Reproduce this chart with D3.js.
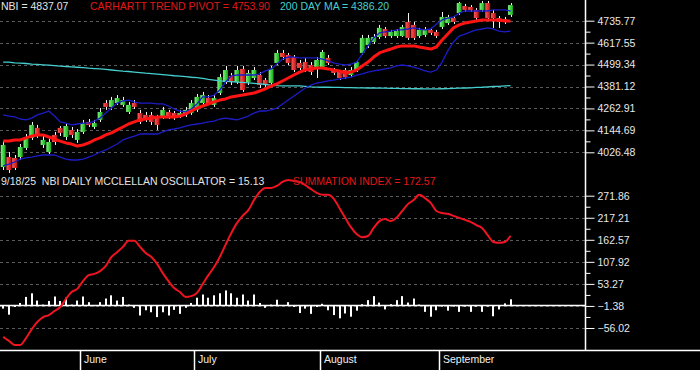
<!DOCTYPE html>
<html>
<head>
<meta charset="utf-8" />
<script src="https://d3js.org/d3.v7.min.js"></script>
<title>NBI McClellan</title>
<style>
  body { margin: 0; background: #000; }
  svg { display: block; font-family: "Liberation Sans", Arial, sans-serif; }
</style>
</head>
<body>
<svg id="chart" width="700" height="370"></svg>
<script>
// trading days shown on the chart
var dates = [
  "2025-05-12","2025-05-13","2025-05-14","2025-05-15","2025-05-16","2025-05-19","2025-05-20","2025-05-21","2025-05-22","2025-05-23",
  "2025-05-27","2025-05-28","2025-05-29","2025-05-30",
  "2025-06-02","2025-06-03","2025-06-04","2025-06-05","2025-06-06","2025-06-09","2025-06-10","2025-06-11","2025-06-12","2025-06-13",
  "2025-06-16","2025-06-17","2025-06-18","2025-06-20","2025-06-23","2025-06-24","2025-06-25","2025-06-26","2025-06-27","2025-06-30",
  "2025-07-01","2025-07-02","2025-07-03","2025-07-07","2025-07-08","2025-07-09","2025-07-10","2025-07-11","2025-07-14","2025-07-15",
  "2025-07-16","2025-07-17","2025-07-18","2025-07-21","2025-07-22","2025-07-23","2025-07-24","2025-07-25","2025-07-28","2025-07-29",
  "2025-07-30","2025-07-31",
  "2025-08-01","2025-08-04","2025-08-05","2025-08-06","2025-08-07","2025-08-08","2025-08-11","2025-08-12","2025-08-13","2025-08-14",
  "2025-08-15","2025-08-18","2025-08-19","2025-08-20","2025-08-21","2025-08-22","2025-08-25","2025-08-26","2025-08-27","2025-08-28",
  "2025-08-29",
  "2025-09-02","2025-09-03","2025-09-04","2025-09-05","2025-09-08","2025-09-09","2025-09-10","2025-09-11","2025-09-12","2025-09-15",
  "2025-09-16","2025-09-17","2025-09-18"
];
var monthLabels = ["June", "July", "August", "September"];

// NBI daily candles
var open = [3947,4001,3996,4001,4050,4104,4158,4066,4028,4120, 4158,4109,4147,4093,4136,4190,4163,4201,4292,4271,
  4292,4282,4244,4292,4238,4228,4228,4211,4217,4244, 4238,4222,4228,4238,4255,4292,4319,4282,4346,4405,
  4438,4405,4476,4405,4427,4443,4416,4400,4508,4562, 4551,4540,4508,4513,4497,4481,4486,4535,4470,4459,
  4470,4443,4470,4562,4605,4621,4648,4691,4653,4653, 4653,4729,4713,4653,4659,4686,4675,4702,4723,4750,
  4777,4815,4810,4794,4794,4831,4777,4750,4745,4767];
var high = [4087,4028,4012,4071,4125,4190,4174,4114,4098,4136, 4168,4184,4163,4152,4201,4206,4201,4265,4308,4325,
  4335,4325,4298,4308,4255,4244,4244,4228,4271,4255, 4249,4255,4271,4308,4341,4352,4335,4341,4449,4492,
  4454,4492,4492,4470,4486,4459,4427,4492,4578,4578, 4562,4551,4524,4535,4513,4540,4578,4551,4481,4470,
  4481,4486,4524,4659,4659,4664,4713,4702,4686,4691, 4713,4777,4729,4697,4702,4697,4686,4783,4767,4761,
  4837,4826,4820,4804,4842,4842,4794,4761,4756,4831];
var low = [3931,3915,3931,3985,4039,4093,4104,4050,4017,4066, 4114,4093,4104,4077,4125,4163,4152,4190,4255,4255,
  4282,4271,4233,4260,4179,4190,4174,4147,4206,4206, 4201,4211,4217,4228,4244,4282,4282,4271,4335,4395,
  4389,4395,4352,4389,4416,4373,4379,4389,4497,4524, 4497,4459,4470,4459,4443,4427,4476,4497,4443,4416,
  4422,4432,4459,4551,4589,4610,4637,4643,4643,4643, 4648,4632,4632,4643,4648,4659,4643,4691,4713,4718,
  4767,4783,4783,4740,4783,4740,4697,4697,4718,4756];
var close = [4066,3931,3942,4055,4104,4174,4120,4093,4082,4082, 4131,4168,4120,4136,4184,4174,4184,4244,4271,4308,
  4319,4308,4282,4271,4190,4201,4190,4174,4255,4217, 4211,4238,4255,4292,4325,4335,4292,4319,4432,4470,
  4405,4470,4362,4454,4470,4389,4389,4476,4562,4540, 4508,4470,4481,4470,4459,4524,4567,4508,4454,4427,
  4432,4470,4513,4643,4643,4648,4697,4653,4675,4680, 4702,4643,4643,4686,4691,4670,4653,4756,4756,4729,
  4831,4794,4794,4750,4831,4750,4750,4729,4729,4820];

// overlays
var pivot = [4087,4087,4093,4093,4104,4114,4120,4120,4109,4098, 4087,4077,4071,4060,4066,4077,4093,4104,4120,4131,
  4147,4163,4179,4190,4201,4206,4211,4217,4217,4217, 4217,4222,4233,4249,4265,4276,4287,4298,4308,4314,
  4325,4330,4335,4341,4346,4357,4368,4384,4395,4411, 4427,4443,4459,4470,4476,4481,4481,4476,4470,4465,
  4454,4459,4470,4492,4513,4540,4562,4573,4583,4594, 4600,4600,4600,4594,4589,4583,4594,4632,4664,4697,
  4713,4723,4729,4734,4740,4740,4740,4740,4734,4734];
var upperBand = [4228,4222,4217,4206,4201,4211,4228,4238,4249,4222, 4190,4184,4174,4179,4184,4184,4195,4211,4238,4265,
  4292,4303,4308,4298,4292,4292,4292,4287,4287,4276, 4260,4249,4244,4260,4287,4325,4325,4335,4362,4405,
  4438,4443,4443,4443,4443,4449,4465,4476,4502,4529, 4540,4540,4535,4535,4535,4535,4529,4519,4508,4502,
  4497,4502,4513,4556,4600,4643,4670,4675,4680,4686, 4686,4691,4697,4691,4686,4691,4718,4740,4750,4756,
  4777,4788,4788,4788,4788,4788,4794,4794,4794,4788];
var lowerBand = [3953,3963,3974,3990,3996,4001,4007,4012,4012,4012, 4001,3990,3985,3985,3990,4001,4012,4028,4039,4055,
  4071,4093,4104,4114,4125,4125,4125,4125,4136,4147, 4152,4158,4168,4174,4179,4184,4190,4195,4206,4211,
  4206,4201,4211,4222,4238,4249,4249,4255,4265,4287, 4308,4330,4352,4373,4389,4400,4405,4411,4416,4422,
  4427,4432,4443,4449,4459,4465,4470,4476,4481,4492, 4497,4492,4486,4476,4465,4459,4470,4513,4573,4621,
  4653,4664,4675,4686,4691,4697,4691,4680,4675,4680];
var ma200 = [4513,4512,4509,4507,4505,4502,4500,4498,4496,4494, 4491,4489,4487,4485,4483,4480,4478,4476,4473,4470,
  4467,4464,4462,4459,4456,4453,4451,4448,4445,4442, 4439,4437,4434,4431,4429,4425,4420,4416,4411,4409,
  4407,4405,4403,4401,4398,4395,4392,4389,4386,4384, 4384,4384,4384,4382,4379,4378,4377,4377,4376,4376,
  4375,4375,4374,4374,4373,4373,4372,4372,4371,4371, 4370,4370,4369,4369,4368,4368,4368,4369,4370,4371,
  4372,4373,4374,4376,4377,4379,4381,4382,4384,4386.2];

// lower panel
var oscillator = [-8,-23,-4,6,21,30,12,2,11,22, 11,19,2,12,22,8,-2,8,17,25,
  12,21,2,-6,-25,-12,-17,-29,-17,-25, -11,-21,-6,6,19,27,19,25,30,37,
  30,19,27,12,27,6,-6,2,14,1, 8,-4,-19,-8,-21,-4,4,-12,-24,-32,
  -20,-28,-13,3,13,23,7,-10,3,13, 23,7,17,2,-16,-28,-12,-3,-13,-3,
  -16,-3,-16,-3,-16,-3,-27,-10,5,15.13];
var summation = [-78,-88,-98,-98,-81,-59,-41,-29,-24,-14, -4,16,33,41,60,75,78,85,98,120,
  132,145,160,160,145,130,120,103,80,60, 43,33,21,23,31,53,75,95,120,150,
  179,204,222,236,261,281,291,291,296,306, 311,308,306,298,288,279,274,274,264,241,
  217,194,177,169,172,192,209,214,209,217, 234,251,261,274,266,254,234,229,227,222,
  217,212,207,199,192,174,157,155,157,172.57];

var priceTicks = [4735.77, 4617.55, 4499.34, 4381.12, 4262.91, 4144.69, 4026.48];
var oscTicks = [271.86, 217.21, 162.57, 107.92, 53.27, -1.38, -56.02];

var width = 700, height = 370;
var axisX = 585.5, bottomY = 350.5;
var font = "Liberation Sans, Arial, sans-serif";

var svg = d3.select("#chart");
svg.append("rect").attr("width", width).attr("height", height).attr("fill", "#000");

var defs = svg.append("defs");
function grad(id, c1, c2) {
  var g = defs.append("linearGradient").attr("id", id).attr("x1", "0%").attr("x2", "100%");
  g.append("stop").attr("offset", "0%").attr("stop-color", c1);
  g.append("stop").attr("offset", "100%").attr("stop-color", c2);
}
grad("up", "#7cf57c", "#14a814");
grad("down", "#ff5a5a", "#c01010");

var x = d3.scaleBand().domain(dates).range([0.35, 513.35]);
var xc = function(d) { return x(d) + x.bandwidth() / 2; };
var yPrice = d3.scaleLinear().domain([4026.48, 4735.77]).range([152.3, 20.7]);
var yOsc = d3.scaleLinear().domain([-56.02, 271.86]).range([328, 195.7]);

// dashed grid
function grid(scale, ticks) {
  svg.append("g").selectAll("line").data(ticks).join("line")
    .attr("x1", 0).attr("x2", axisX)
    .attr("y1", function(d) { return Math.round(scale(d)) + 0.5; })
    .attr("y2", function(d) { return Math.round(scale(d)) + 0.5; })
    .attr("stroke", "#5a5a5a").attr("stroke-dasharray", "3,3");
}
grid(yPrice, priceTicks);
grid(yOsc, oscTicks);

// right axes
function addAxis(scale, ticks) {
  var minor = d3.pairs(ticks).map(function(p) { return (p[0] + p[1]) / 2; });
  svg.append("g").attr("transform", "translate(" + axisX + ",0)")
    .call(d3.axisRight(scale).tickValues(minor).tickSize(5).tickFormat(""))
    .call(function(g) { g.select(".domain").remove(); })
    .selectAll("line").attr("stroke", "#fff");
  var g = svg.append("g").attr("transform", "translate(" + axisX + ",0)")
    .call(d3.axisRight(scale).tickValues(ticks).tickSize(9).tickPadding(3).tickFormat(d3.format(".2f")));
  g.select(".domain").remove();
  g.selectAll("line").attr("stroke", "#fff");
  g.selectAll("text").attr("fill", "#e8e8e8").attr("font-size", "10.5px").attr("font-family", font);
}
addAxis(yPrice, priceTicks);
addAxis(yOsc, oscTicks);

svg.append("line").attr("x1", axisX).attr("x2", axisX).attr("y1", 0).attr("y2", bottomY)
  .attr("stroke", "#fff").attr("stroke-width", 1.5);
svg.append("line").attr("x1", 0).attr("x2", width).attr("y1", bottomY).attr("y2", bottomY)
  .attr("stroke", "#fff").attr("stroke-width", 1.5);

// month separators
var monthStarts = dates.filter(function(d, i) { return i > 0 && d.slice(5, 7) !== dates[i - 1].slice(5, 7); });
var months = svg.append("g").selectAll("g").data(monthStarts).join("g")
  .attr("transform", function(d) { return "translate(" + Math.round(x(d)) + ",0)"; });
months.append("line").attr("x1", 0.5).attr("x2", 0.5).attr("y1", bottomY).attr("y2", height)
  .attr("stroke", "#fff").attr("stroke-width", 1.5);
months.append("text").attr("x", 4).attr("y", 363).attr("fill", "#f0f0f0")
  .attr("font-size", "10.5px").attr("font-family", font)
  .text(function(d, i) { return monthLabels[i]; });

// candles
var idx = d3.range(dates.length);
var bw = x.bandwidth() * 0.86;
svg.append("g").selectAll("line").data(idx).join("line")
  .attr("x1", function(i) { return Math.round(xc(dates[i])) + 0.5; })
  .attr("x2", function(i) { return Math.round(xc(dates[i])) + 0.5; })
  .attr("y1", function(i) { return yPrice(high[i]); })
  .attr("y2", function(i) { return yPrice(low[i]); })
  .attr("stroke", "#f4f4f4").attr("stroke-width", 1);
svg.append("g").selectAll("rect").data(idx).join("rect")
  .attr("x", function(i) { return xc(dates[i]) - bw / 2; })
  .attr("width", bw)
  .attr("y", function(i) { return yPrice(Math.max(open[i], close[i])); })
  .attr("height", function(i) { return Math.max(1, Math.abs(yPrice(open[i]) - yPrice(close[i]))); })
  .attr("fill", function(i) { return close[i] >= open[i] ? "url(#up)" : "url(#down)"; });

// overlay lines
function priceLine(values, color, w) {
  svg.append("path").datum(values)
    .attr("d", d3.line().x(function(d, i) { return xc(dates[i]); }).y(function(d) { return yPrice(d); }))
    .attr("fill", "none").attr("stroke", color).attr("stroke-width", w).attr("stroke-linejoin", "round");
}
priceLine(ma200, "#45cfcf", 1.3);
priceLine(upperBand, "#1c1cc8", 1.3);
priceLine(lowerBand, "#1c1cc8", 1.3);
priceLine(pivot, "#ff1414", 3);

// oscillator bars
var zeroY = yOsc(0);
svg.append("line").attr("x1", 0).attr("x2", axisX).attr("y1", zeroY).attr("y2", zeroY)
  .attr("stroke", "#fff").attr("stroke-width", 1.5);
svg.append("g").selectAll("rect").data(idx).join("rect")
  .attr("x", function(i) { return Math.round(xc(dates[i])) - 1; })
  .attr("width", 2)
  .attr("y", function(i) { return Math.min(yOsc(oscillator[i]), zeroY); })
  .attr("height", function(i) { return Math.abs(yOsc(oscillator[i]) - zeroY); })
  .attr("fill", "#fff");

svg.append("path").datum(summation)
  .attr("d", d3.line().x(function(d, i) { return xc(dates[i]); }).y(function(d) { return yOsc(d); }).curve(d3.curveMonotoneX))
  .attr("fill", "none").attr("stroke", "#f01420").attr("stroke-width", 2);

// titles
function label(txt, px, py, color) {
  svg.append("text").attr("x", px).attr("y", py).attr("fill", color)
    .attr("font-size", "10.5px").attr("font-family", font).attr("xml:space", "preserve").text(txt);
}
label("NBI = 4837.07", 1, 10, "#e4e4e4");
label("CARHARTT TREND PIVOT = 4753.90", 90, 10, "#e01818");
label("200 DAY MA = 4386.20", 280, 10, "#45cfcf");
label("9/18/25  NBI DAILY MCCLELLAN OSCILLATOR = 15.13", 1, 185, "#e4e4e4");
label("SUMMATION INDEX = 172.57", 293, 185, "#e01818");
</script>
</body>
</html>
